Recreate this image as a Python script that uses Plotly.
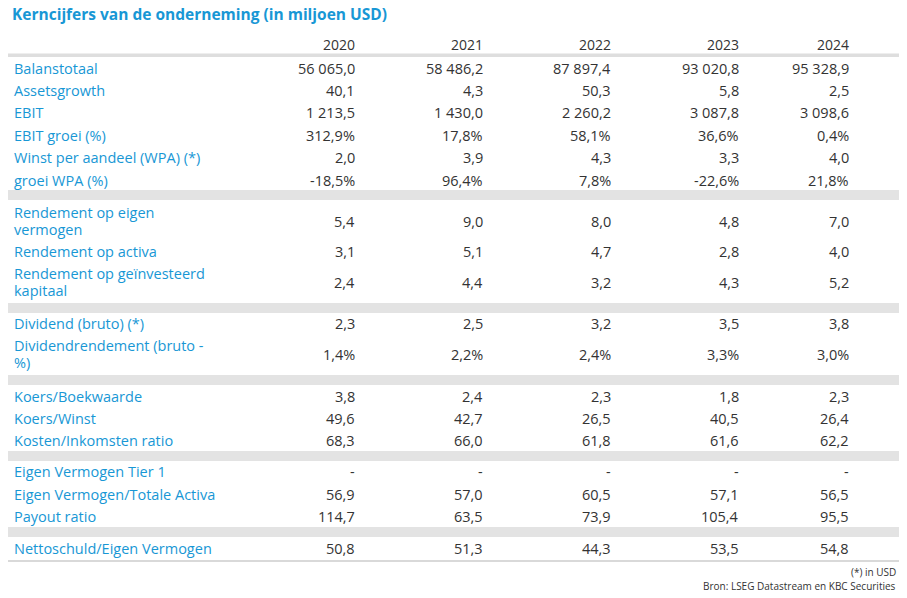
import plotly.graph_objects as go

title = "Kerncijfers van de onderneming (in miljoen USD)"
years = ["2020", "2021", "2022", "2023", "2024"]
labels = [
    "Balanstotaal", "Assetsgrowth", "EBIT", "EBIT groei (%)", "Winst per aandeel (WPA) (*)", "groei WPA (%)",
    None,
    "Rendement op eigen|vermogen", "Rendement op activa", "Rendement op geïnvesteerd|kapitaal",
    None,
    "Dividend (bruto) (*)", "Dividendrendement (bruto -|%)",
    None,
    "Koers/Boekwaarde", "Koers/Winst", "Kosten/Inkomsten ratio",
    None,
    "Eigen Vermogen Tier 1", "Eigen Vermogen/Totale Activa", "Payout ratio",
    None,
    "Nettoschuld/Eigen Vermogen",
]
values = [
    ["56 065,0", "58 486,2", "87 897,4", "93 020,8", "95 328,9"],
    ["40,1", "4,3", "50,3", "5,8", "2,5"],
    ["1 213,5", "1 430,0", "2 260,2", "3 087,8", "3 098,6"],
    ["312,9%", "17,8%", "58,1%", "36,6%", "0,4%"],
    ["2,0", "3,9", "4,3", "3,3", "4,0"],
    ["-18,5%", "96,4%", "7,8%", "-22,6%", "21,8%"],
    None,
    ["5,4", "9,0", "8,0", "4,8", "7,0"],
    ["3,1", "5,1", "4,7", "2,8", "4,0"],
    ["2,4", "4,4", "3,2", "4,3", "5,2"],
    None,
    ["2,3", "2,5", "3,2", "3,5", "3,8"],
    ["1,4%", "2,2%", "2,4%", "3,3%", "3,0%"],
    None,
    ["3,8", "2,4", "2,3", "1,8", "2,3"],
    ["49,6", "42,7", "26,5", "40,5", "26,4"],
    ["68,3", "66,0", "61,8", "61,6", "62,2"],
    None,
    ["-", "-", "-", "-", "-"],
    ["56,9", "57,0", "60,5", "57,1", "56,5"],
    ["114,7", "63,5", "73,9", "105,4", "95,5"],
    None,
    ["50,8", "51,3", "44,3", "53,5", "54,8"],
]
footer = ["(*) in USD", "Bron: LSEG Datastream en KBC Securities"]

# layout (pixel space)
col_x = [357, 485, 613, 741, 851]
row_y = [68, 90, 112, 135, 157, 180, 195, 221, 251, 282, 308, 323, 354, 380, 396, 418, 440, 456, 471, 494, 516, 532, 548]
BLUE = "#1897d5"
GREY = "#333333"
FONT = "Open Sans"
OFF = 8  # page offset compensation

fig = go.Figure()
fig.add_trace(go.Scatter(x=[OFF, 907 + OFF], y=[OFF, 598 + OFF], mode="markers", marker=dict(opacity=0), hoverinfo="skip"))

ann = []
shapes = []
ann.append(dict(x=10, y=14, text="<b>" + title + "</b>", xanchor="left", yanchor="middle",
                font=dict(family=FONT, size=15.5, color=BLUE)))
for cx, yr in zip(col_x, years):
    ann.append(dict(x=cx, y=44, text=yr, xanchor="right", yanchor="middle", font=dict(family=FONT, size=14, color=GREY)))
shapes.append(dict(type="rect", x0=0, x1=920, y0=53.5, y1=57, fillcolor="#dedede", line=dict(width=0)))
for lab, vals, y in zip(labels, values, row_y):
    if lab is None:
        shapes.append(dict(type="rect", x0=0, x1=920, y0=y - 5, y1=y + 5, fillcolor="#e3e3e3", line=dict(width=0)))
        continue
    parts = lab.split("|")
    if len(parts) == 1:
        ann.append(dict(x=12, y=y, text=parts[0], xanchor="left", yanchor="middle",
                        font=dict(family=FONT, size=14.5, color=BLUE)))
    else:
        for k, p in enumerate(parts):
            ann.append(dict(x=12, y=y - 8.5 + 17 * k, text=p, xanchor="left", yanchor="middle",
                            font=dict(family=FONT, size=14.5, color=BLUE)))
    for cx, v in zip(col_x, vals):
        ann.append(dict(x=cx, y=y, text=v, xanchor="right", yanchor="middle", font=dict(family=FONT, size=14.5, color=GREY)))
shapes.append(dict(type="line", x0=0, x1=920, y0=561, y1=561, line=dict(color="#cccccc", width=1.5)))
ann.append(dict(x=898, y=572, text=footer[0], xanchor="right", yanchor="middle", font=dict(family=FONT, size=10, color=GREY)))
ann.append(dict(x=898, y=586, text=footer[1], xanchor="right", yanchor="middle", font=dict(family=FONT, size=10, color=GREY)))
for a in ann:
    a.update(xref="x", yref="y", showarrow=False)

fig.update_layout(
    width=907, height=598, margin=dict(l=0, r=0, t=0, b=0),
    paper_bgcolor="white", plot_bgcolor="white", showlegend=False,
    xaxis=dict(range=[OFF, 907 + OFF], visible=False, fixedrange=True),
    yaxis=dict(range=[598 + OFF, OFF], visible=False, fixedrange=True),
    annotations=ann, shapes=shapes,
)
fig.write_html("out.html")
